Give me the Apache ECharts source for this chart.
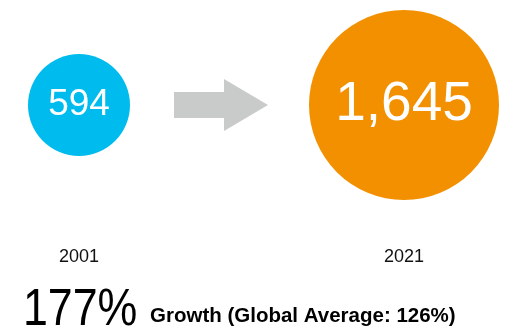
<!DOCTYPE html>
<html>
<head>
<meta charset="utf-8">
<script src="https://cdn.jsdelivr.net/npm/echarts@6/dist/echarts.min.js"></script>
<style>
  html, body { margin: 0; padding: 0; background: #ffffff; }
  #chart { width: 519px; height: 328px; }
</style>
</head>
<body>
<div id="chart"></div>
<script>
// Years compared and the totals for each
const years = ['2001', '2021'];
const totals = [594, 1645];
const bubbleColors = ['#00bbee', '#f29000'];
const valueFontSizes = [37, 55];

// Headline growth figures
const growthPct = 177;
const globalAvgPct = 126;

const FONT = '"Liberation Sans", Arial, sans-serif';

const chart = echarts.init(document.getElementById('chart'), null, { renderer: 'canvas' });

const bubbleData = years.map((y, i) => ({
  value: [y, 0, totals[i]],
  itemStyle: { color: bubbleColors[i], opacity: 1 },
  label: { fontSize: valueFontSizes[i] }
}));

chart.setOption({
  animation: false,
  backgroundColor: '#ffffff',
  grid: { left: 79, right: 115, top: 10, bottom: 128 },
  xAxis: {
    type: 'category',
    data: years,
    boundaryGap: false,
    axisLine: { show: false },
    axisTick: { show: false },
    splitLine: { show: false },
    axisLabel: {
      margin: 48,
      fontFamily: FONT,
      fontSize: 18,
      color: '#111111'
    }
  },
  yAxis: {
    type: 'value',
    min: -1,
    max: 1,
    show: false
  },
  visualMap: {
    show: false,
    type: 'continuous',
    dimension: 2,
    min: totals[0],
    max: totals[1],
    inRange: { symbolSize: [102, 190] }
  },
  series: [{
    type: 'scatter',
    symbol: 'circle',
    data: bubbleData,
    itemStyle: { opacity: 1 },
    label: {
      show: true,
      position: 'inside',
      color: '#ffffff',
      fontFamily: FONT,
      formatter: p => p.value[2].toLocaleString('en-US')
    },
    emphasis: { disabled: true }
  }],
  graphic: [
    {
      // arrow pointing from the earlier year to the later one
      type: 'polygon',
      shape: {
        points: [[174, 92], [224, 92], [224, 79], [268, 105], [224, 131], [224, 118], [174, 118]]
      },
      style: { fill: '#c9cbca' }
    },
    {
      type: 'text',
      x: 23,
      y: 285,
      scaleX: 0.86,
      style: {
        text: growthPct + '%',
        font: 'normal 52px ' + FONT,
        fill: '#000000'
      }
    },
    {
      type: 'text',
      left: 150,
      top: 306,
      style: {
        text: 'Growth (Global Average: ' + globalAvgPct + '%)',
        font: 'bold 20.5px ' + FONT,
        fill: '#000000'
      }
    }
  ]
});
</script>
</body>
</html>
